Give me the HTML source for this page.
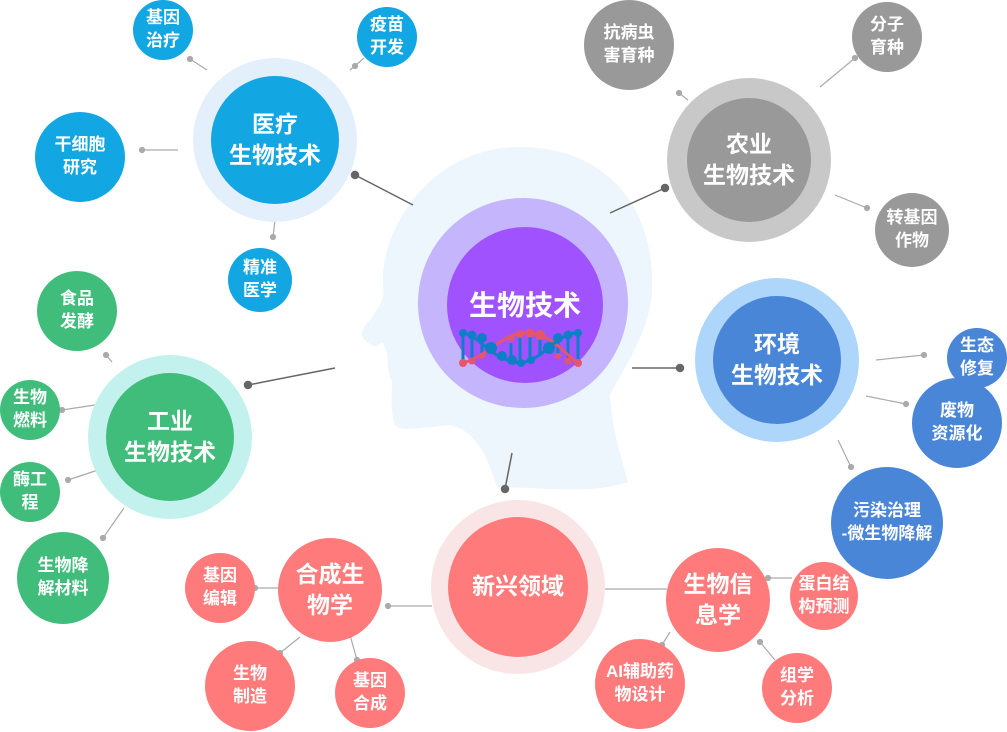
<!DOCTYPE html>
<html><head><meta charset="utf-8"><style>
body{margin:0;width:1007px;height:732px;background:#fff;position:relative;overflow:hidden;font-family:"Liberation Sans","Noto Sans CJK SC",sans-serif;}
.c{position:absolute;border-radius:50%;display:flex;align-items:center;justify-content:center;text-align:center;color:#fff;font-weight:bold;line-height:1.35;}
.s{font-size:17px;}
.m{font-size:23px;}
svg{position:absolute;left:0;top:0;}
</style></head><body>
<svg width="1007" height="732">
<path d="M520 147 C600 147 655 200 652 290 C650 330 628 360 610 395 C612 430 622 460 628 482 C590 495 540 487 497 487 C490 465 480 432 450 425 C420 428 400 432 395 425 C390 410 392 395 392 380 C385 370 390 355 385 348 C382 335 380 350 372 345 C358 338 360 330 370 320 C380 305 385 300 383 285 C380 230 430 147 520 147Z" fill="#edf5fd"/>
</svg>
<div class="c" style="left:418px;top:198px;width:210px;height:210px;background:#c4b5fd"></div>
<div class="c m" style="left:447px;top:227px;width:156px;height:156px;background:#a052ff;font-size:27px;"></div>
<div style="position:absolute;left:447px;top:288px;width:156px;text-align:center;color:#fff;font-weight:bold;font-size:28px;line-height:36px">生物技术</div>
<svg width="1007" height="732">
<g stroke="#0d7fc7" stroke-width="3">
<line x1="463" y1="333" x2="463" y2="363"/><line x1="472" y1="335" x2="472" y2="361"/><line x1="482" y1="338" x2="482" y2="356"/><line x1="511" y1="343" x2="511" y2="360"/><line x1="520" y1="335" x2="520" y2="363"/><line x1="530" y1="333" x2="530" y2="360"/><line x1="540" y1="336" x2="540" y2="356"/><line x1="558" y1="338" x2="558" y2="356"/><line x1="568" y1="333" x2="568" y2="362"/><line x1="578" y1="333" x2="578" y2="363"/>
</g>
<path d="M463 363 C490 355 505 330 530 333 C555 336 565 355 578 363" stroke="#e5566a" stroke-width="3" fill="none"/>
<path d="M463 333 C480 335 490 360 520 363 C545 360 555 333 578 333" stroke="#0d7fc7" stroke-width="3" fill="none"/>
<g fill="#0d7fc7"><circle cx="463" cy="333" r="4"/><circle cx="472" cy="335" r="4.5"/><circle cx="482" cy="338" r="5"/><circle cx="491" cy="348" r="6"/><circle cx="502" cy="356" r="5"/><circle cx="512" cy="360" r="5"/><circle cx="521" cy="363" r="4"/><circle cx="531" cy="360" r="4"/><circle cx="549" cy="348" r="6"/><circle cx="558" cy="338" r="5"/><circle cx="568" cy="335" r="4.5"/><circle cx="578" cy="333" r="4"/></g>
<g fill="#e5566a"><circle cx="463" cy="363" r="4"/><circle cx="472" cy="361" r="3.5"/><circle cx="482" cy="356" r="3"/><circle cx="511" cy="338" r="3.5"/><circle cx="520" cy="334" r="4"/><circle cx="530" cy="333" r="4.5"/><circle cx="540" cy="335" r="5"/><circle cx="558" cy="356" r="3"/><circle cx="568" cy="361" r="3.5"/><circle cx="578" cy="363" r="4"/></g>
<g stroke="#666" stroke-width="1.5" fill="#666">
<line x1="355" y1="175" x2="413" y2="205"/><circle cx="355" cy="175" r="3.5"/>
<line x1="665" y1="188" x2="610" y2="213"/><circle cx="665" cy="188" r="3.5"/>
<line x1="632" y1="368" x2="680" y2="368"/><circle cx="680" cy="368" r="3.5"/>
<line x1="248" y1="385" x2="335" y2="368"/><circle cx="248" cy="385" r="3.5"/>
<line x1="512" y1="453" x2="505" y2="489"/><circle cx="505" cy="489" r="3.5"/>
</g>
<g stroke="#aaa" stroke-width="1.2" fill="#aaa">
<line x1="190" y1="59" x2="207" y2="70"/><circle cx="190" cy="59" r="2.5"/>
<line x1="364" y1="58" x2="350" y2="70"/><circle cx="355" cy="66" r="2.5"/>
<line x1="142" y1="150" x2="178" y2="150"/><circle cx="142" cy="150" r="2.5"/>
<line x1="275" y1="220" x2="273" y2="237"/><circle cx="273" cy="237" r="2.5"/>
<line x1="679" y1="93" x2="688" y2="100"/><circle cx="679" cy="93" r="2.5"/>
<line x1="855" y1="58" x2="820" y2="87"/><circle cx="855" cy="58" r="2.5"/>
<line x1="867" y1="208" x2="835" y2="195"/><circle cx="867" cy="208" r="2.5"/>
<line x1="924" y1="355" x2="876" y2="360"/><circle cx="924" cy="355" r="2.5"/>
<line x1="906" y1="404" x2="866" y2="396"/><circle cx="906" cy="404" r="2.5"/>
<line x1="851" y1="467" x2="838" y2="440"/><circle cx="851" cy="467" r="2.5"/>
<line x1="106" y1="355" x2="112" y2="362"/><circle cx="106" cy="355" r="2.5"/>
<line x1="62" y1="410" x2="95" y2="405"/><circle cx="62" cy="410" r="2.5"/>
<line x1="68" y1="480" x2="98" y2="470"/><circle cx="68" cy="480" r="2.5"/>
<line x1="103" y1="538" x2="124" y2="508"/><circle cx="103" cy="538" r="2.5"/>
<line x1="388" y1="606" x2="432" y2="606"/><circle cx="388" cy="606" r="2.5"/>
<line x1="255" y1="588" x2="280" y2="588"/><circle cx="255" cy="588" r="2.5"/>
<line x1="280" y1="653" x2="300" y2="637"/><circle cx="280" cy="653" r="2.5"/>
<line x1="357" y1="660" x2="350" y2="635"/><circle cx="357" cy="660" r="2.5"/>
<line x1="605" y1="589" x2="667" y2="589"/>
<line x1="768" y1="578" x2="792" y2="578"/><circle cx="768" cy="578" r="2.5"/>
<line x1="662" y1="645" x2="670" y2="632"/><circle cx="662" cy="645" r="2.5"/>
<line x1="760" y1="642" x2="775" y2="660"/><circle cx="760" cy="642" r="2.5"/>
</g>
</svg>
<!-- medical -->
<div class="c" style="left:193px;top:58px;width:164px;height:164px;background:#e3f0fc"></div>
<div class="c m" style="left:211px;top:76px;width:128px;height:128px;background:#12a6e3">医疗<br>生物技术</div>
<div class="c s" style="left:133px;top:0px;width:60px;height:60px;background:#12a6e3">基因<br>治疗</div>
<div class="c s" style="left:357px;top:7px;width:60px;height:60px;background:#12a6e3">疫苗<br>开发</div>
<div class="c s" style="left:35px;top:112px;width:90px;height:90px;background:#12a6e3">干细胞<br>研究</div>
<div class="c s" style="left:228px;top:248px;width:64px;height:64px;background:#12a6e3">精准<br>医学</div>
<!-- agri -->
<div class="c" style="left:667px;top:78px;width:164px;height:164px;background:#c8c8c8"></div>
<div class="c m" style="left:687px;top:98px;width:124px;height:124px;background:#999">农业<br>生物技术</div>
<div class="c s" style="left:584px;top:0px;width:90px;height:90px;background:#999">抗病虫<br>害育种</div>
<div class="c s" style="left:852px;top:2px;width:70px;height:70px;background:#999">分子<br>育种</div>
<div class="c s" style="left:875px;top:193px;width:74px;height:74px;background:#999">转基因<br>作物</div>
<!-- env -->
<div class="c" style="left:695px;top:278px;width:164px;height:164px;background:#aed6fb"></div>
<div class="c m" style="left:713px;top:296px;width:128px;height:128px;background:#4a86d8">环境<br>生物技术</div>
<div class="c s" style="left:947px;top:328px;width:60px;height:60px;background:#4a86d8">生态<br>修复</div>
<div class="c s" style="left:912px;top:378px;width:90px;height:90px;background:#4a86d8">废物<br>资源化</div>
<div class="c s" style="left:831px;top:467px;width:112px;height:112px;background:#4a86d8">污染治理<br>-微生物降解</div>
<!-- industry -->
<div class="c" style="left:88px;top:355px;width:164px;height:164px;background:#c3f2ee"></div>
<div class="c m" style="left:106px;top:373px;width:128px;height:128px;background:#41bd7b">工业<br>生物技术</div>
<div class="c s" style="left:37px;top:271px;width:80px;height:80px;background:#41bd7b">食品<br>发酵</div>
<div class="c s" style="left:0px;top:380px;width:60px;height:60px;background:#41bd7b">生物<br>燃料</div>
<div class="c s" style="left:0px;top:462px;width:60px;height:60px;background:#41bd7b">酶工<br>程</div>
<div class="c s" style="left:17px;top:532px;width:92px;height:92px;background:#41bd7b">生物降<br>解材料</div>
<!-- new -->
<div class="c" style="left:431px;top:500px;width:174px;height:174px;background:#f9e5e5"></div>
<div class="c m" style="left:448px;top:517px;width:140px;height:140px;background:#ff7b7b">新兴领域</div>
<div class="c m" style="left:278px;top:538px;width:104px;height:104px;background:#ff7b7b">合成生<br>物学</div>
<div class="c s" style="left:185px;top:553px;width:70px;height:70px;background:#ff7b7b">基因<br>编辑</div>
<div class="c s" style="left:205px;top:641px;width:90px;height:90px;background:#ff7b7b">生物<br>制造</div>
<div class="c s" style="left:335px;top:658px;width:70px;height:70px;background:#ff7b7b">基因<br>合成</div>
<div class="c m" style="left:666px;top:548px;width:104px;height:104px;background:#ff7b7b">生物信<br>息学</div>
<div class="c s" style="left:790px;top:562px;width:68px;height:68px;background:#ff7b7b">蛋白结<br>构预测</div>
<div class="c s" style="left:595px;top:639px;width:90px;height:90px;background:#ff7b7b">AI辅助药<br>物设计</div>
<div class="c s" style="left:762px;top:653px;width:70px;height:70px;background:#ff7b7b">组学<br>分析</div>
</body></html>
